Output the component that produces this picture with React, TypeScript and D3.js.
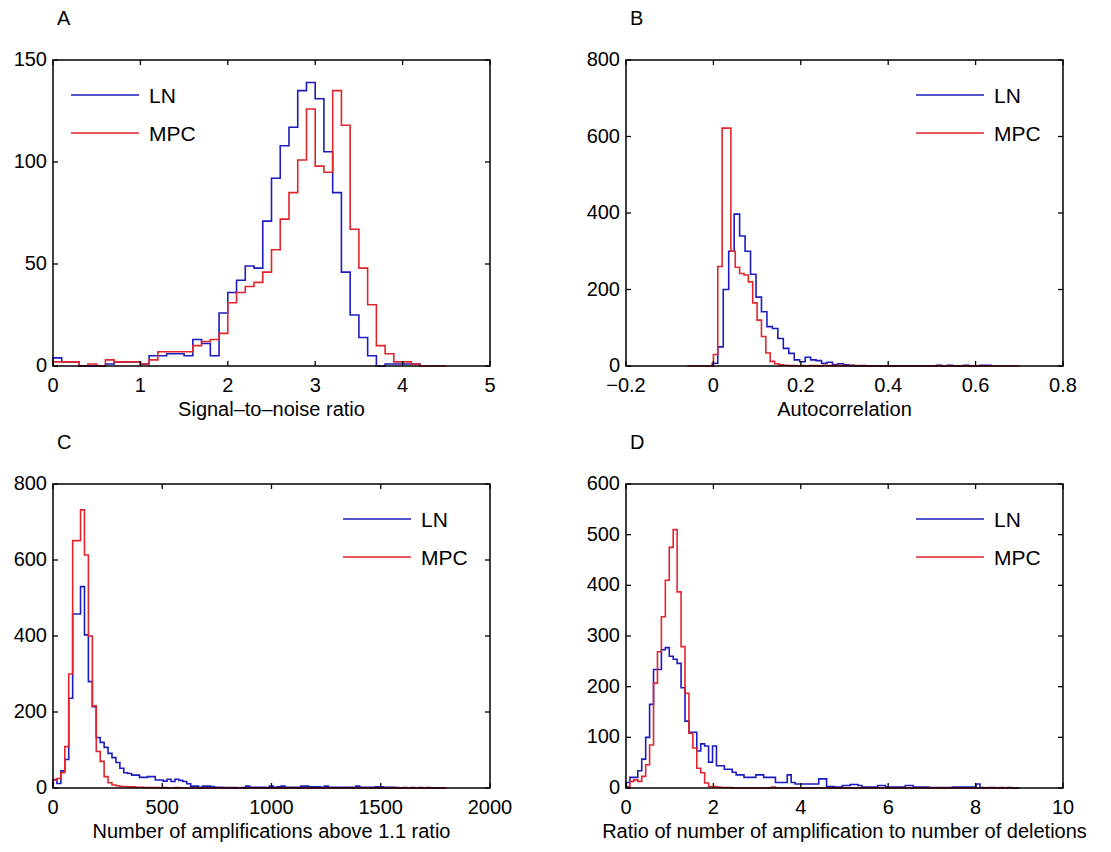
import React from 'react';
import * as d3 from 'd3';

// A: signal-to-noise ratio, bins of 0.1 from 0
const snrLN = [4, 2, 2, 0, 0, 0, 1, 2, 2, 2, 1, 5, 5, 6, 6, 5, 13, 11, 5, 26, 36, 42, 49, 48, 71, 92, 108, 117, 135, 139, 131, 105, 85, 46, 25, 14, 5, 0, 1, 1, 1, 1];
const snrMPC = [2, 2, 2, 0, 1, 0, 3, 2, 2, 2, 1, 3, 7, 7, 7, 7, 10, 12, 13, 16, 31, 36, 39, 41, 46, 57, 72, 85, 101, 126, 98, 95, 135, 118, 67, 48, 30, 10, 6, 2, 2, 1];

// B: autocorrelation
const acLN = [7, 50, 200, 300, 397, 340, 300, 240, 180, 142, 103, 98, 72, 46, 33, 16, 11, 23, 16, 14, 7, 10, 4, 6, 3, 2, 0, 1, 0, 0, 0, 0, 0, 0, 0, 0, 0, 0, 0, 0, 0, 2, 0, 2, 0, 0, 2, 0, 0, 2, 2];
const acMPC = [30, 260, 622, 622, 300, 258, 242, 238, 220, 165, 120, 77, 34, 12, 6, 3, 2, 1, 1, 0, 1, 0, 1, 1, 0, 2, 1, 1, 2, 1, 1, 0, 1];

// C: number of amplifications above 1.1 ratio, bins of 18
const ampLN = [22, 12, 45, 75, 236, 458, 458, 530, 403, 280, 214, 133, 120, 107, 91, 80, 67, 52, 40, 38, 34, 34, 28, 28, 30, 30, 21, 21, 18, 23, 17, 23, 20, 17, 11, 5, 5, 2, 5, 5, 4, 2, 2, 1, 1, 1, 1, 0, 1, 5, 2, 2, 2, 2, 1, 5, 2, 3, 5, 2, 2, 2, 2, 5, 5, 3, 3, 3, 2, 5, 2, 2, 2, 2, 2, 2, 2, 5, 2, 2, 2, 2, 3, 3, 2, 2, 2, 1, 0, 1, 0, 1, 0, 1, 0, 1];
const ampMPC = [21, 25, 40, 109, 300, 651, 651, 732, 613, 400, 216, 96, 70, 30, 14, 8, 6, 4, 4, 3, 3, 2, 2, 1, 1, 1, 1, 0, 1, 0, 0, 1];

// D: ratio of amplifications to deletions, bins of 0.09
const ratioLN = [11, 21, 21, 34, 57, 100, 165, 234, 234, 273, 277, 260, 254, 246, 198, 132, 110, 110, 73, 87, 83, 51, 83, 44, 44, 37, 37, 31, 26, 26, 21, 21, 21, 26, 26, 21, 21, 21, 11, 11, 11, 26, 11, 8, 8, 8, 8, 8, 8, 18, 18, 3, 3, 2, 2, 5, 5, 7, 7, 5, 2, 2, 2, 2, 5, 5, 2, 2, 2, 2, 2, 5, 5, 2, 2, 2, 2, 1, 1, 1, 1, 1, 1, 2, 2, 2, 2, 2, 2, 8, 1, 0, 1, 1, 0, 1, 0, 1];
const ratioMPC = [3, 13, 16, 13, 23, 46, 85, 207, 269, 338, 410, 475, 510, 387, 279, 187, 108, 79, 39, 30, 10, 3, 3, 2, 1, 1, 1, 0, 0, 0, 0, 0, 0, 0, 0, 0, 0, 2];

const seriesNames = ['LN', 'MPC'];
const seriesColors = ['#1c1cc0', '#e0262c'];

const panels = [
  {
    letter: 'A', xLabel: 'Signal\u2013to\u2013noise ratio',
    xDomain: [0, 5], yDomain: [0, 150],
    xTicks: [0, 1, 2, 3, 4, 5], yTicks: [0, 50, 100, 150],
    legend: 'left',
    series: [
      { counts: snrLN, start: 0, width: 0.1, from: 0, to: 4.2 },
      { counts: snrMPC, start: 0, width: 0.1, from: 0, to: 4.5 },
    ],
  },
  {
    letter: 'B', xLabel: 'Autocorrelation',
    xDomain: [-0.2, 0.8], yDomain: [0, 800],
    xTicks: [-0.2, 0, 0.2, 0.4, 0.6, 0.8], yTicks: [0, 200, 400, 600, 800],
    legend: 'right',
    series: [
      { counts: acLN, start: -0.0025, width: 0.0125, from: -0.0025, to: 0.635 },
      { counts: acMPC, start: 0, width: 0.01, from: -0.06, to: 0.7 },
    ],
  },
  {
    letter: 'C', xLabel: 'Number of amplifications above 1.1 ratio',
    xDomain: [0, 2000], yDomain: [0, 800],
    xTicks: [0, 500, 1000, 1500, 2000], yTicks: [0, 200, 400, 600, 800],
    legend: 'right',
    series: [
      { counts: ampLN, start: 0, width: 18, from: 0, to: 1800 },
      { counts: ampMPC, start: 0, width: 18, from: 0, to: 1800 },
    ],
  },
  {
    letter: 'D', xLabel: 'Ratio of number of amplification to number of deletions',
    xDomain: [0, 10], yDomain: [0, 600],
    xTicks: [0, 2, 4, 6, 8, 10], yTicks: [0, 100, 200, 300, 400, 500, 600],
    legend: 'right',
    series: [
      { counts: ratioLN, start: 0, width: 0.09, from: 0, to: 9 },
      { counts: ratioMPC, start: 0, width: 0.09, from: 0, to: 9 },
    ],
  },
];

const FONT = '"Liberation Sans", Arial, Helvetica, sans-serif';

function stepPoints(s) {
  const pts = [[s.from, 0], [s.start, 0]];
  s.counts.forEach((c, i) => {
    pts.push([s.start + i * s.width, c]);
    pts.push([s.start + (i + 1) * s.width, c]);
  });
  const last = s.start + s.counts.length * s.width;
  pts.push([last, 0]);
  pts.push([Math.max(last, s.to), 0]);
  return pts;
}

function Panel({ p, left, top, w, h }) {
  const x = d3.scaleLinear().domain(p.xDomain).range([left, left + w]);
  const y = d3.scaleLinear().domain(p.yDomain).range([top + h, top]);
  const line = d3.line().x((d) => x(d[0])).y((d) => y(d[1]));
  const fmt = d3.format('~g');
  const tl = 5;
  const legX = p.legend === 'left' ? left + 18 : left + w - 147;
  return (
    <g fontFamily={FONT}>
      <text x={left + 4} y={top - 35} fontSize={20}>{p.letter}</text>
      {p.series.map((s, i) => (
        <path key={i} d={line(stepPoints(s))} fill="none" stroke={seriesColors[i]} strokeWidth={1.6} />
      ))}
      <rect x={left} y={top} width={w} height={h} fill="none" stroke="#000" strokeWidth={1.5} />
      {p.xTicks.map((t) => (
        <g key={'x' + t}>
          <line x1={x(t)} x2={x(t)} y1={top + h} y2={top + h - tl} stroke="#000" strokeWidth={1.3} />
          <line x1={x(t)} x2={x(t)} y1={top} y2={top + tl} stroke="#000" strokeWidth={1.3} />
          <text x={x(t)} y={top + h + 26} fontSize={20} textAnchor="middle">{fmt(t)}</text>
        </g>
      ))}
      {p.yTicks.map((t) => (
        <g key={'y' + t}>
          <line x1={left} x2={left + tl} y1={y(t)} y2={y(t)} stroke="#000" strokeWidth={1.3} />
          <line x1={left + w} x2={left + w - tl} y1={y(t)} y2={y(t)} stroke="#000" strokeWidth={1.3} />
          <text x={left - 6} y={y(t) + 6} fontSize={20} textAnchor="end">{fmt(t)}</text>
        </g>
      ))}
      <text x={left + w / 2} y={top + h + 50} fontSize={20} textAnchor="middle">{p.xLabel}</text>
      {seriesNames.map((n, i) => (
        <g key={n}>
          <line x1={legX} x2={legX + 68} y1={top + 35 + i * 38} y2={top + 35 + i * 38} stroke={seriesColors[i]} strokeWidth={1.6} />
          <text x={legX + 78} y={top + 43 + i * 38} fontSize={21}>{n}</text>
        </g>
      ))}
    </g>
  );
}

export default function App() {
  const lefts = [53, 626];
  const tops = [60, 484];
  const w = 437;
  const hs = [306, 304];
  return (
    <svg width={1111} height={852} style={{ position: 'absolute', left: 0, top: 0, background: '#fff' }}>
      <rect width={1111} height={852} fill="#fff" />
      {panels.map((p, i) => (
        <Panel key={p.letter} p={p} left={lefts[i % 2]} top={tops[Math.floor(i / 2)]} w={w} h={hs[Math.floor(i / 2)]} />
      ))}
    </svg>
  );
}
